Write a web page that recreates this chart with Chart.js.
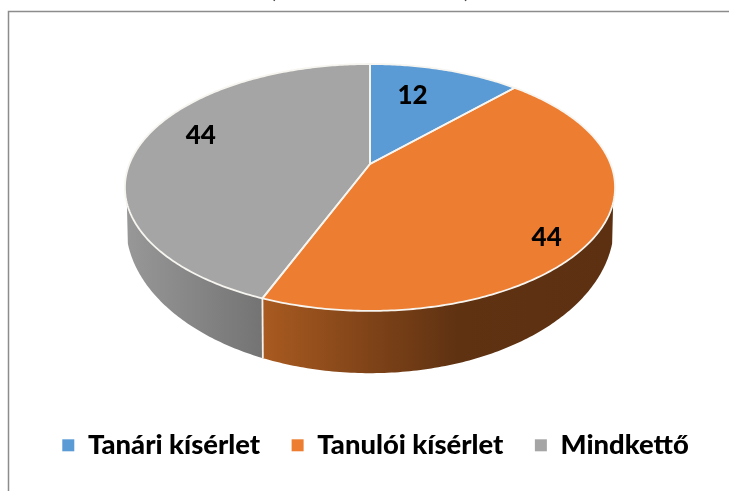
<!DOCTYPE html>
<html><head><meta charset="utf-8">
<style>html,body{margin:0;padding:0;background:#fff;overflow:hidden}canvas{display:block;filter:blur(0.4px)}</style>
<script src="https://cdn.jsdelivr.net/npm/chart.js@4"></script></head>
<body><canvas id="c" width="729" height="491"></canvas>
<script>
const categories = ["Tanári kísérlet", "Tanulói kísérlet", "Mindkettő"];
const values = [12, 44, 44];
const colors = ["#5B9BD5", "#ED7D31", "#A5A5A5"];
const labelTurnDeg = [-4.6, 7.6, 8.2];
const labelRadius = [0.68, 0.858, 0.78];

const P = {cx:370, cy:164, A:240.6, B:119, k:0.19, cy2:197, A2:239.6, B2:142.7};
const top3 = (t, r=1) => {
  const u = r*Math.cos(t), v = r*Math.sin(t), d = 1 - P.k*v;
  return [P.cx + P.A*u/d, P.cy + P.B*v/d];
};
const low3 = (t) => {
  const u = Math.cos(t), v = Math.sin(t), d = 1 - P.k*v;
  return [P.cx + P.A2*u/d, P.cy2 + P.B2*v/d];
};
const EDGE = 0.3126, FRONT_R = EDGE, FRONT_L = Math.PI - EDGE;

function rim(ctx, fn, a, b, move){
  const n = Math.max(8, Math.ceil(Math.abs(b-a)*80));
  for(let i=0;i<=n;i++){
    const p = fn(a+(b-a)*i/n);
    if(i===0 && move) ctx.moveTo(p[0],p[1]); else ctx.lineTo(p[0],p[1]);
  }
}
function wall(ctx, a, b, fill){
  ctx.beginPath();
  rim(ctx, top3, a, b, true);
  rim(ctx, low3, b, a, false);
  ctx.closePath();
  ctx.fillStyle = fill; ctx.fill();
}
const pie3d = {
  id:'pie3d',
  beforeDraw(chart){
    const ctx = chart.ctx;
    ctx.save();
    ctx.fillStyle = '#fff'; ctx.fillRect(0,0,729,491);
    ctx.strokeStyle = '#8c8c8c'; ctx.lineWidth = 1.5;
    ctx.strokeRect(8.5,11.5,730,490);
    ctx.fillStyle = '#444'; ctx.font = '22px Lato'; ctx.textBaseline = 'alphabetic'; ctx.textAlign = 'center';
    ctx.fillText('(', 273, -2);
    ctx.fillText(')', 467, -2);
    ctx.restore();
  },
  beforeDatasetsDraw(chart){
    const ctx = chart.ctx, arcs = chart.getDatasetMeta(0).data;
    ctx.save();
    const b1 = arcs[1].endAngle;
    let g = ctx.createLinearGradient(265,0,615,0);
    g.addColorStop(0,'#A85A20'); g.addColorStop(0.3,'#7F4318'); g.addColorStop(0.55,'#5F3212'); g.addColorStop(1,'#5C3011');
    wall(ctx, FRONT_R, b1, g);
    g = ctx.createLinearGradient(125,0,265,0);
    g.addColorStop(0,'#989898'); g.addColorStop(1,'#737373');
    wall(ctx, b1, FRONT_L, g);
    ctx.strokeStyle='#F4F1EC'; ctx.lineWidth=1.8;
    ctx.beginPath(); const pa=top3(b1), pb=low3(b1); ctx.moveTo(pa[0],pa[1]); ctx.lineTo(pb[0],pb[1]); ctx.stroke();
    arcs.forEach((arc,i)=>{
      ctx.beginPath(); ctx.moveTo(P.cx,P.cy);
      rim(ctx, top3, arc.startAngle, arc.endAngle, false);
      ctx.closePath();
      ctx.fillStyle = colors[i]; ctx.fill();
    });
    arcs.forEach((arc)=>{
      ctx.beginPath(); ctx.moveTo(P.cx,P.cy);
      rim(ctx, top3, arc.startAngle, arc.endAngle, false);
      ctx.closePath();
      ctx.strokeStyle='#F7F5F0'; ctx.lineWidth=1.8; ctx.lineJoin='round'; ctx.stroke();
    });
    ctx.font='900 26px Lato'; ctx.fillStyle='#000'; ctx.textAlign='center'; ctx.textBaseline='middle';
    arcs.forEach((arc,i)=>{
      const mid=(arc.startAngle+arc.endAngle)/2 + labelTurnDeg[i]*Math.PI/180;
      const p=top3(mid,labelRadius[i]);
      ctx.fillText(String(values[i]),p[0],p[1]);
    });
    ctx.restore();
    return false;
  }
};
new Chart(document.getElementById('c'),{
  type:'pie',
  data:{labels:categories,datasets:[{data:values,backgroundColor:colors,borderWidth:0}]},
  plugins:[pie3d],
  options:{
    responsive:false,animation:false,
    layout:{padding:{left:22,right:0,top:0,bottom:22}},
    plugins:{
      tooltip:{enabled:false},
      legend:{position:'bottom',
        labels:{boxWidth:12,boxHeight:12,padding:31.5,color:'#000',font:{family:'Lato',weight:'900',size:27.4}}}
    }
  }
});
</script></body></html>
